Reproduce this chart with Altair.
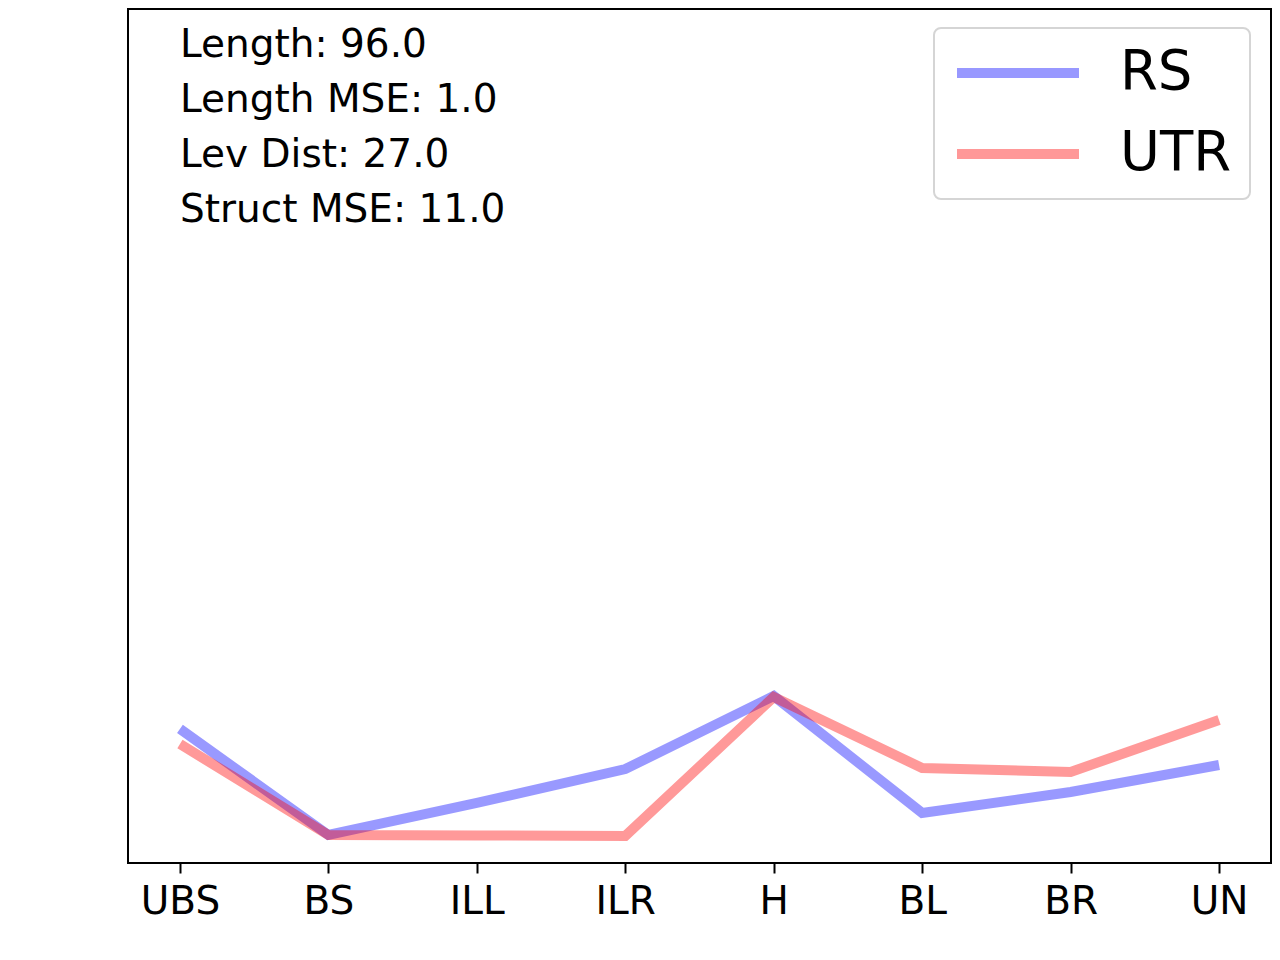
import altair as alt
import pandas as pd

categories = ["UBS", "BS", "ILL", "ILR", "H", "BL", "BR", "UN"]
rs_values = [0.157, 0.0328, 0.0703, 0.110, 0.1956, 0.0585, 0.0831, 0.1148]
utr_values = [0.1393, 0.0328, 0.0322, 0.0316, 0.1944, 0.1112, 0.1066, 0.1674]
series_names = ["RS", "UTR"]
series_colors = ["blue", "red"]

length = 96.0
length_mse = 1.0
lev_dist = 27.0
struct_mse = 11.0

rows = []
for name, vals in zip(series_names, [rs_values, utr_values]):
    for i, (c, v) in enumerate(zip(categories, vals)):
        rows.append({"cat": c, "idx": i, "series": name, "value": v})
df = pd.DataFrame(rows)

note = "\n".join([
    f"Length: {length:.1f}",
    f"Length MSE: {length_mse:.1f}",
    f"Lev Dist: {lev_dist:.1f}",
    f"Struct MSE: {struct_mse:.1f}",
])

lines = alt.Chart(df).mark_line(strokeWidth=10, opacity=0.4).encode(
    x=alt.X("cat:N", sort=categories, title=None,
            scale=alt.Scale(type="point", padding=0.35),
            axis=alt.Axis(labelAngle=0, domain=False, grid=False)),
    y=alt.Y("value:Q", axis=None, scale=alt.Scale(domain=[0, 1], nice=False, zero=True)),
    color=alt.Color("series:N", sort=series_names, title=None,
                    scale=alt.Scale(domain=series_names, range=series_colors),
                    legend=alt.Legend(orient="none", legendX=806, legendY=19,
                                      symbolType="stroke", symbolSize=14884,
                                      symbolStrokeWidth=10, symbolOpacity=0.4,
                                      labelFontSize=54.5, labelFont="DejaVu Sans",
                                      labelColor="black", labelOffset=36,
                                      clipHeight=54, rowPadding=26, padding=18,
                                      strokeColor="#d5d5d5", fillColor="white",
                                      cornerRadius=7)),
    order=alt.Order("idx:Q"),
)

text = alt.Chart(pd.DataFrame({"t": [note]})).mark_text(
    align="left", baseline="alphabetic", font="DejaVu Sans", fontSize=39,
    lineBreak="\n", lineHeight=55, color="black"
).encode(x=alt.value(52), y=alt.value(48), text="t:N")

chart = alt.layer(lines, text).properties(
    width=1143, height=854,
    autosize=alt.AutoSizeParams(type="none"),
    padding={"left": 120, "top": 1, "right": 1, "bottom": 88},
    background="white",
).configure_view(
    stroke="black", strokeWidth=2
).configure_axis(
    labelFont="DejaVu Sans", labelFontSize=39, labelColor="black",
    tickColor="black", tickWidth=2, tickSize=10, labelPadding=9,
).configure_legend(
    strokeWidth=2
)

chart.save("out.html", embed_options={"renderer": "svg", "actions": False})
